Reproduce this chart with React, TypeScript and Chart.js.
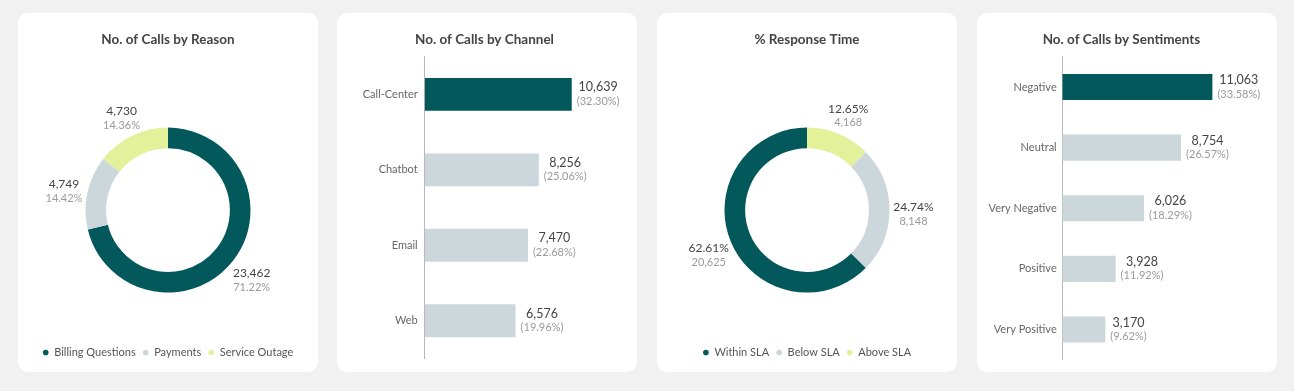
import React, { useEffect, useRef } from "react";
import { Chart, registerables } from "chart.js";

Chart.register(...registerables);

const FONT = "Lato, 'Noto Sans', sans-serif";
const DARK = "#02585b";
const GREY = "#cbd7db";
const YELLOW = "#e2f19a";
const TEXT_DARK = "#444444";
const TEXT_GREY = "#9a9a9a";

// ---- data ----
const reasonLabels = ["Billing Questions", "Payments", "Service Outage"];
const reasonValues = [23462, 4749, 4730];
const reasonColors = [DARK, GREY, YELLOW];

const channelLabels = ["Call-Center", "Chatbot", "Email", "Web"];
const channelValues = [10639, 8256, 7470, 6576];

const slaLabels = ["Within SLA", "Below SLA", "Above SLA"];
const slaValues = [20625, 8148, 4168];
const slaColors = [DARK, GREY, YELLOW];

const sentimentLabels = ["Negative", "Neutral", "Very Negative", "Positive", "Very Positive"];
const sentimentValues = [11063, 8754, 6026, 3928, 3170];

const fmt = (v: number) => v.toLocaleString("en-US");
const pct = (v: number, total: number) => ((v / total) * 100).toFixed(2) + "%";

function donutLabelPlugin(pctFirst: boolean) {
  return {
    id: "donutLabels",
    afterDatasetsDraw(chart: any) {
      const ctx = chart.ctx;
      const meta = chart.getDatasetMeta(0);
      const data = chart.data.datasets[0].data as number[];
      const total = data.reduce((a, b) => a + b, 0);
      ctx.save();
      ctx.textAlign = "center";
      ctx.textBaseline = "middle";
      meta.data.forEach((arc: any, i: number) => {
        const p = arc.getProps(["x", "y", "startAngle", "endAngle", "outerRadius"], true);
        const mid = (p.startAngle + p.endAngle) / 2;
        const r = p.outerRadius + 24;
        const cx = p.x + Math.cos(mid) * r;
        const cy = p.y + Math.sin(mid) * r + 4;
        const v = data[i];
        const l1 = pctFirst ? pct(v, total) : fmt(v);
        const l2 = pctFirst ? fmt(v) : pct(v, total);
        ctx.font = `12px ${FONT}`;
        ctx.fillStyle = TEXT_DARK;
        ctx.fillText(l1, cx, cy - 7);
        ctx.font = `11px ${FONT}`;
        ctx.fillStyle = TEXT_GREY;
        ctx.fillText(l2, cx, cy + 7);
      });
      ctx.restore();
    },
  };
}

const barLabelPlugin = {
  id: "barLabels",
  afterDatasetsDraw(chart: any) {
    const ctx = chart.ctx;
    const meta = chart.getDatasetMeta(0);
    const data = chart.data.datasets[0].data as number[];
    const total = data.reduce((a, b) => a + b, 0);
    ctx.save();
    ctx.textAlign = "center";
    ctx.textBaseline = "middle";
    meta.data.forEach((bar: any, i: number) => {
      const p = bar.getProps(["x", "y"], true);
      const v = data[i];
      const l1 = fmt(v);
      const l2 = `(${pct(v, total)})`;
      ctx.font = `12.5px ${FONT}`;
      const w1 = ctx.measureText(l1).width;
      ctx.font = `11px ${FONT}`;
      const w2 = ctx.measureText(l2).width;
      const cx = p.x + 5 + Math.max(w1, w2) / 2;
      ctx.font = `12.5px ${FONT}`;
      ctx.fillStyle = TEXT_DARK;
      ctx.fillText(l1, cx, p.y - 7);
      ctx.font = `11px ${FONT}`;
      ctx.fillStyle = TEXT_GREY;
      ctx.fillText(l2, cx, p.y + 7);
    });
    ctx.restore();
  },
};

function titleOpts(text: string, bottom: number) {
  return {
    display: true,
    text,
    color: TEXT_DARK,
    font: { size: 13.5, weight: "bold" as const, family: FONT },
    padding: { top: 19, bottom },
  };
}

function donutConfig(title: string, labels: string[], values: number[], colors: string[], pctFirst: boolean, reverse: boolean): any {
  const lbl = reverse ? [...labels].reverse() : labels;
  const val = reverse ? [...values].reverse() : values;
  const col = reverse ? [...colors].reverse() : colors;
  return {
    type: "doughnut",
    data: {
      labels: lbl,
      datasets: [{ data: val, backgroundColor: col, borderWidth: 0 }],
    },
    options: {
      responsive: false,
      animation: false,
      devicePixelRatio: 1,
      cutout: "75%",
      radius: 82.5,
      layout: { padding: { bottom: 4 } },
      plugins: {
        title: titleOpts(title, 32),
        legend: {
          position: "bottom",
          reverse,
          labels: {
            usePointStyle: true,
            pointStyle: "circle",
            boxWidth: 6,
            boxHeight: 4,
            padding: 7,
            color: "#555555",
            font: { size: 11, family: FONT },
          },
        },
        tooltip: { enabled: false },
      },
    },
    plugins: [donutLabelPlugin(pctFirst)],
  };
}

function barConfig(title: string, labels: string[], values: number[], axisX: number, padRight: number, thickness: number, tickPad: number): any {
  const maxV = Math.max(...values);
  return {
    type: "bar",
    data: {
      labels,
      datasets: [
        {
          data: values,
          backgroundColor: values.map((v) => (v === maxV ? DARK : GREY)),
          borderWidth: 0,
          categoryPercentage: 1,
          barPercentage: thickness,
        },
      ],
    },
    options: {
      indexAxis: "y",
      responsive: false,
      animation: false,
      devicePixelRatio: 1,
      layout: { padding: { bottom: 6.8, right: padRight } },
      scales: {
        x: { display: false, min: 0, max: 15000 },
        y: {
          grid: { display: false, drawTicks: false },
          border: { display: true, color: "#b8b8b8", width: 1 },
          ticks: { padding: tickPad, color: "#666666", font: { size: 11, family: FONT } },
          afterFit(scale: any) {
            scale.width = axisX;
          },
        },
      },
      plugins: {
        title: titleOpts(title, 8.5),
        legend: { display: false },
        tooltip: { enabled: false },
      },
    },
    plugins: [barLabelPlugin],
  };
}

function ChartCard({ left, make }: { left: number; make: () => any }) {
  const ref = useRef<HTMLCanvasElement>(null);
  useEffect(() => {
    const chart = new Chart(ref.current as HTMLCanvasElement, make());
    return () => chart.destroy();
  }, []);
  return (
    <div
      style={{
        position: "absolute",
        left,
        top: 13,
        width: 300,
        height: 359,
        background: "#ffffff",
        borderRadius: 10,
        overflow: "hidden",
      }}
    >
      <canvas ref={ref} width={300} height={359} style={{ display: "block", width: 300, height: 359 }} />
    </div>
  );
}

export default function App() {
  return (
    <div
      style={{
        position: "absolute",
        left: 0,
        top: 0,
        width: 1294,
        height: 391,
        background: "#f1f1f1",
        fontFamily: FONT,
      }}
    >
      <ChartCard left={18} make={() => donutConfig("No. of Calls by Reason", reasonLabels, reasonValues, reasonColors, false, false)} />
      <ChartCard left={337} make={() => barConfig("No. of Calls by Channel", channelLabels, channelValues, 87.7, 5, 0.436, 7)} />
      <ChartCard left={657} make={() => donutConfig("% Response Time", slaLabels, slaValues, slaColors, true, true)} />
      <ChartCard left={977} make={() => barConfig("No. of Calls by Sentiments", sentimentLabels, sentimentValues, 85.3, 11.2, 0.43, 5.6)} />
    </div>
  );
}
